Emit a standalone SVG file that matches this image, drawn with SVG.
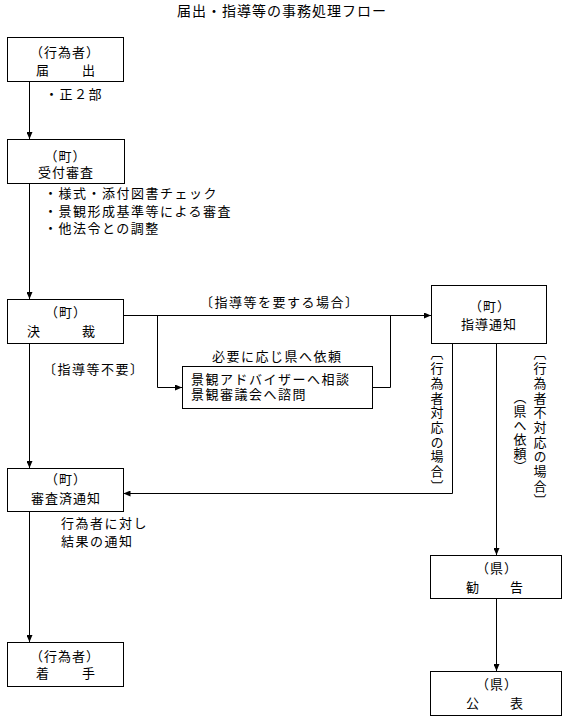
<svg xmlns="http://www.w3.org/2000/svg" width="569" height="719" viewBox="0 0 569 719">
<style>
text{font-family:"Noto Sans CJK JP","Noto Sans",sans-serif;fill:#000}
.t{font-size:14px;letter-spacing:1px}
.b{font-size:13px;letter-spacing:1px}
.m{text-anchor:middle}
.n{font-size:13px;letter-spacing:1.5px}
.v{font-size:13px;letter-spacing:1.7px;writing-mode:vertical-rl}
.box{fill:#fff;stroke:#000;stroke-width:1}
.ln{fill:none;stroke:#000;stroke-width:1}
</style>
<defs>
<marker id="ah" markerWidth="7" markerHeight="6" refX="7" refY="3" orient="auto" markerUnits="userSpaceOnUse"><path d="M0,0 L7,3 L0,6 z" fill="#000"/></marker>
</defs>
<rect width="569" height="719" fill="#fff"/>
<text class="t" x="177" y="16">届出・指導等の事務処理フロー</text>

<g id="connectors">
<path class="ln" d="M29.5,81 V139" marker-end="url(#ah)"/>
<path class="ln" d="M29.5,183 V299" marker-end="url(#ah)"/>
<path class="ln" d="M123,315.5 H431" marker-end="url(#ah)"/>
<path class="ln" d="M157.5,315.5 V387.5 H182" marker-end="url(#ah)"/>
<path class="ln" d="M372,387.5 H390.5 V315.5"/>
<path class="ln" d="M29.5,343 V468" marker-end="url(#ah)"/>
<path class="ln" d="M452.5,343 V493.5 H123.5" marker-end="url(#ah)"/>
<path class="ln" d="M496.5,343 V555" marker-end="url(#ah)"/>
<path class="ln" d="M496.5,598 V671" marker-end="url(#ah)"/>
<path class="ln" d="M29.5,511 V642" marker-end="url(#ah)"/>
</g>

<g id="labels">
<text class="n" x="45" y="99">・正２部</text>
<text class="n" x="44" y="198">・様式・添付図書チェック</text>
<text class="n" x="44" y="216">・景観形成基準等による審査</text>
<text class="n" x="44" y="233">・他法令との調整</text>
<text class="n" x="200" y="307">〔指導等を要する場合〕</text>
<text class="n" x="212" y="361">必要に応じ県へ依頼</text>
<text class="n" x="43" y="374">〔指導等不要〕</text>
<text class="n" x="61" y="528">行為者に対し</text>
<text class="n" x="61" y="546">結果の通知</text>
<text class="v" x="437" y="347">〔行為者対応の場合〕</text>
<text class="v" x="540" y="347">〔行為者不対応の場合〕</text>
<text class="v" x="520" y="391" style="letter-spacing:0.8px">（県へ依頼）</text>
</g>

<g id="node-todokede">
<rect class="box" x="7.5" y="37.5" width="116" height="44"/>
<text class="b m" x="65" y="57">（行為者）</text>
<text class="b" x="36 51 66 82" y="75">届　　出</text>
</g>

<g id="node-uketsuke">
<rect class="box" x="7.5" y="139.5" width="117" height="44"/>
<text class="b m" x="65.5" y="161">（町）</text>
<text class="b m" x="66" y="177">受付審査</text>
</g>

<g id="node-kessai">
<rect class="box" x="7.5" y="299.5" width="116" height="44"/>
<text class="b m" x="66" y="317">（町）</text>
<text class="b" x="27 41 55 69 82" y="336">決　　　裁</text>
</g>

<g id="node-advisor">
<rect class="box" x="182.5" y="366.5" width="190" height="42"/>
<text class="n" x="191" y="384">景観アドバイザーへ相談</text>
<text class="n" x="191" y="399">景観審議会へ諮問</text>
</g>

<g id="node-shidou">
<rect class="box" x="431.5" y="285.5" width="115" height="58"/>
<text class="b m" x="490" y="311">（町）</text>
<text class="b m" x="489" y="329">指導通知</text>
</g>

<g id="node-shinsazumi">
<rect class="box" x="7.5" y="468.5" width="116" height="43"/>
<text class="b m" x="66" y="484">（町）</text>
<text class="b m" x="66" y="503">審査済通知</text>
</g>

<g id="node-chakushu">
<rect class="box" x="7.5" y="642.5" width="116" height="44"/>
<text class="b m" x="65" y="661">（行為者）</text>
<text class="b" x="36 51 66 82" y="678">着　　手</text>
</g>

<g id="node-kankoku">
<rect class="box" x="430.5" y="555.5" width="131" height="43"/>
<text class="b m" x="497" y="573">（県）</text>
<text class="b" x="466 481 496 510" y="592">勧　　告</text>
</g>

<g id="node-kohyo">
<rect class="box" x="430.5" y="671.5" width="131" height="44"/>
<text class="b m" x="497" y="689">（県）</text>
<text class="b" x="466 481 496 510" y="708">公　　表</text>
</g>
</svg>
